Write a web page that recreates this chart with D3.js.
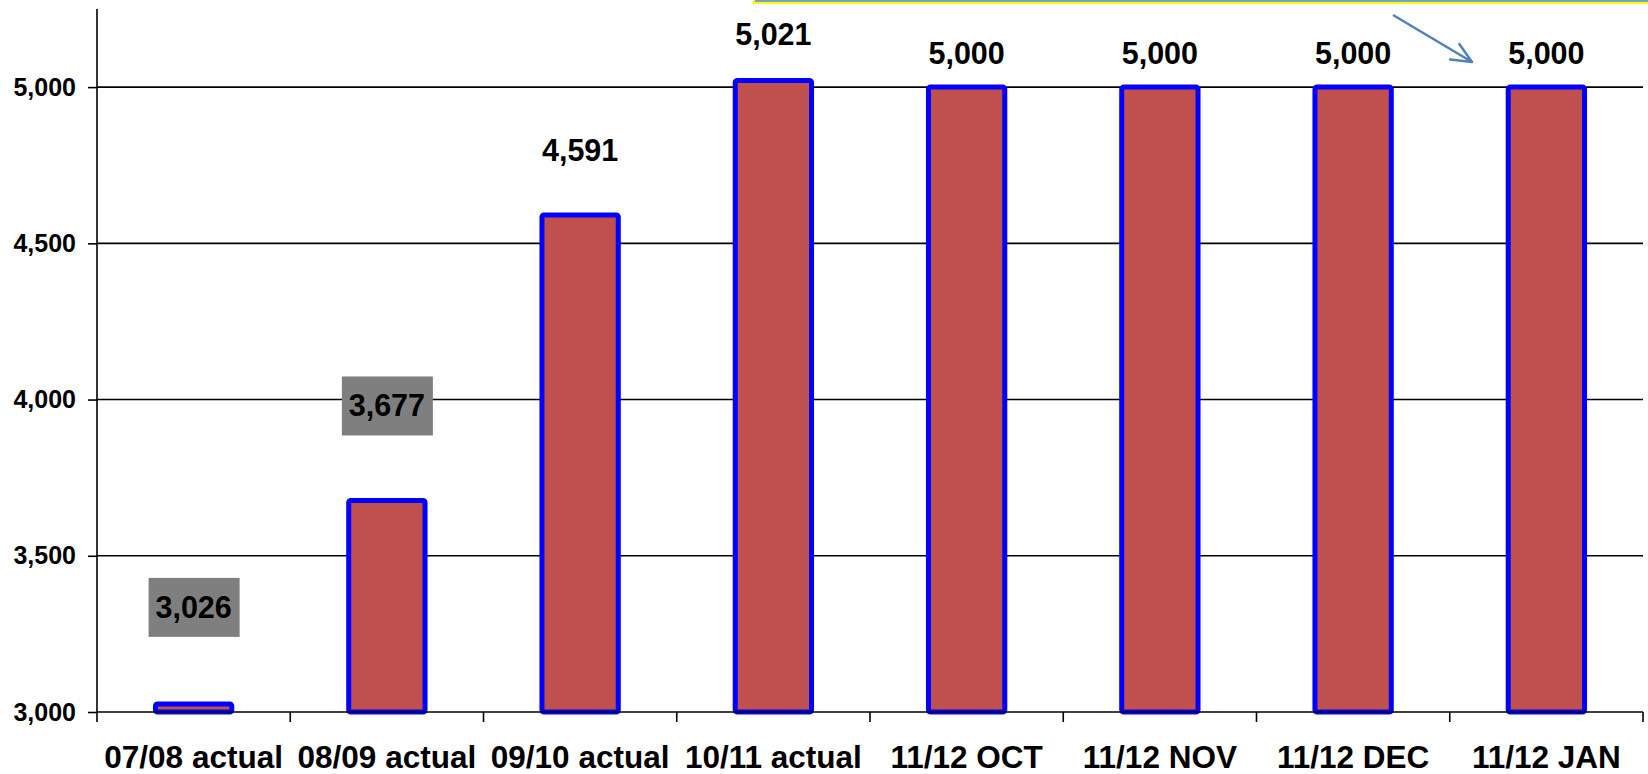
<!DOCTYPE html>
<html>
<head>
<meta charset="utf-8">
<script src="https://cdn.jsdelivr.net/npm/d3@7"></script>
<style>
  html, body { margin: 0; padding: 0; background: #fff; }
  svg { display: block; font-family: Arial, "Liberation Sans", sans-serif; }
</style>
</head>
<body>
<svg id="chart" width="1648" height="774"></svg>
<script>
// dados do gráfico
const categories = ['07/08 actual', '08/09 actual', '09/10 actual', '10/11 actual',
  '11/12 OCT', '11/12 NOV', '11/12 DEC', '11/12 JAN'];
const values = [3026, 3677, 4591, 5021, 5000, 5000, 5000, 5000];
const yTicks = [3000, 3500, 4000, 4500, 5000];
// rótulos com caixa cinza
const boxedLabels = [true, true, false, false, false, false, false, false];

// estilo / posicionamento dos rótulos (px acima do topo da barra)
const labelDy = [86, 84, 54, 36, 23, 23, 23, 23];

const width = 1648, height = 774;
const margin = { left: 97, right: 5, top: 9, bottom: 62 };

const svg = d3.select('#chart');

const x = d3.scaleBand()
  .domain(categories)
  .range([margin.left, width - margin.right])
  .paddingInner(0.605)
  .paddingOuter(0.3025);

const y = d3.scaleLinear()
  .domain([3000, 5250])
  .range([height - margin.bottom, margin.top]);

const fmt = d3.format(',');

// linhas de grade
svg.append('g')
  .selectAll('line')
  .data(yTicks.slice(1))
  .join('line')
  .attr('x1', margin.left)
  .attr('x2', width - margin.right)
  .attr('y1', d => y(d))
  .attr('y2', d => y(d))
  .attr('stroke', '#000')
  .attr('stroke-width', 1.6);

// eixo Y
const yAxis = svg.append('g')
  .attr('transform', `translate(${margin.left},0)`)
  .call(d3.axisLeft(y).tickValues(yTicks).tickFormat(fmt).tickSize(9).tickPadding(12));
yAxis.select('.domain').remove();
yAxis.selectAll('line').attr('stroke', '#000').attr('stroke-width', 1.6);
yAxis.selectAll('text')
  .attr('font-size', 25)
  .attr('font-weight', 'bold')
  .attr('fill', '#000')
  .attr('font-family', 'Arial, "Liberation Sans", sans-serif');

svg.append('line')
  .attr('x1', margin.left).attr('x2', margin.left)
  .attr('y1', margin.top).attr('y2', y(3000))
  .attr('stroke', '#000').attr('stroke-width', 1.6);

// barras
svg.append('g')
  .selectAll('rect')
  .data(values)
  .join('rect')
  .attr('x', (d, i) => x(categories[i]))
  .attr('width', x.bandwidth())
  .attr('y', d => y(d))
  .attr('height', d => y(3000) - y(d))
  .attr('rx', 2)
  .attr('fill', '#C0504D')
  .attr('stroke', '#0000FF')
  .attr('stroke-width', 5)
  .attr('stroke-linejoin', 'round');

// eixo X
svg.append('line')
  .attr('x1', margin.left).attr('x2', width - margin.right)
  .attr('y1', y(3000)).attr('y2', y(3000))
  .attr('stroke', '#000').attr('stroke-width', 1.6);

const step = x.step();
const bounds = d3.range(categories.length + 1).map(i => margin.left + i * step);
svg.append('g')
  .selectAll('line')
  .data(bounds)
  .join('line')
  .attr('x1', d => d).attr('x2', d => d)
  .attr('y1', y(3000)).attr('y2', y(3000) + 10)
  .attr('stroke', '#000').attr('stroke-width', 1.6);

svg.append('g')
  .selectAll('text')
  .data(categories)
  .join('text')
  .attr('x', d => x(d) + x.bandwidth() / 2)
  .attr('y', 768)
  .attr('text-anchor', 'middle')
  .attr('font-size', 31.5)
  .attr('font-weight', 'bold')
  .attr('fill', '#000')
  .text(d => d);

// rótulos de valores
const labels = svg.append('g')
  .selectAll('g')
  .data(values)
  .join('g')
  .attr('transform', (d, i) =>
    `translate(${x(categories[i]) + x.bandwidth() / 2},${y(d) - labelDy[i]})`);

labels.filter((d, i) => boxedLabels[i])
  .append('rect')
  .attr('x', -45)
  .attr('y', -40)
  .attr('width', 91)
  .attr('height', 59)
  .attr('fill', '#7F7F7F');

labels.append('text')
  .attr('text-anchor', 'middle')
  .attr('font-size', 30.5)
  .attr('font-weight', 'bold')
  .attr('fill', '#000')
  .text(d => fmt(d));

// caixa de texto no topo (borda amarela)
svg.append('line')
  .attr('x1', 753).attr('x2', width)
  .attr('y1', 1).attr('y2', 1)
  .attr('stroke', '#4F81BD').attr('stroke-width', 1.5);
svg.append('line')
  .attr('x1', 753).attr('x2', width)
  .attr('y1', 3).attr('y2', 3)
  .attr('stroke', '#FFFF00').attr('stroke-width', 2);
svg.append('line')
  .attr('x1', 754).attr('x2', 754)
  .attr('y1', 0).attr('y2', 3)
  .attr('stroke', '#FFFF00').attr('stroke-width', 2);

// seta
const ax1 = 1393, ay1 = 15, ax2 = 1472, ay2 = 62;
const ang = Math.atan2(ay2 - ay1, ax2 - ax1);
const head = 22;
svg.append('line')
  .attr('x1', ax1).attr('y1', ay1).attr('x2', ax2).attr('y2', ay2)
  .attr('stroke', '#4F81BD').attr('stroke-width', 2.5);
svg.append('path')
  .attr('d', [ang + 0.42, ang - 0.42].map(a =>
    `M${ax2},${ay2}L${ax2 - head * Math.cos(a)},${ay2 - head * Math.sin(a)}`).join(''))
  .attr('stroke', '#4F81BD').attr('stroke-width', 2.5).attr('fill', 'none')
  .attr('stroke-linecap', 'round');
</script>
</body>
</html>
